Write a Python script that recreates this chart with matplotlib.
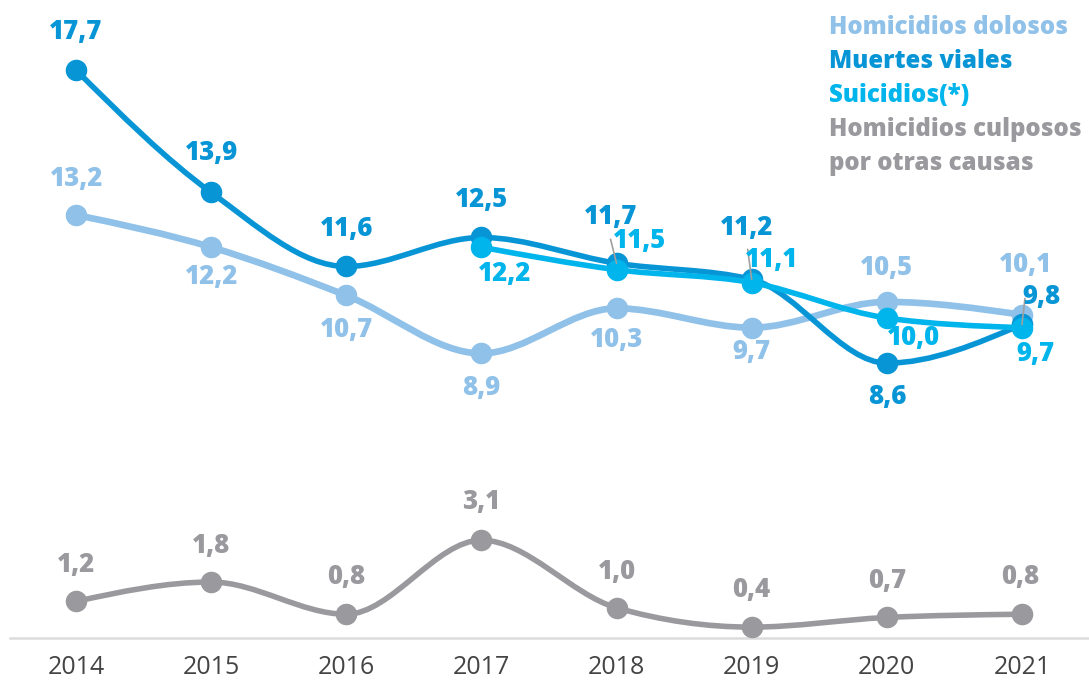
import numpy as np
import matplotlib
matplotlib.use("Agg")
import matplotlib.pyplot as plt
from matplotlib.path import Path
from matplotlib.patches import PathPatch

plt.rcParams["font.family"] = ["Open Sans", "DejaVu Sans"]

# ==========================
# Data
# ==========================

years = [2014, 2015, 2016, 2017, 2018, 2019, 2020, 2021]

dolosos = [13.2, 12.2, 10.7, 8.9, 10.3, 9.7, 10.5, 10.1]
viales = [17.7, 13.9, 11.6, 12.5, 11.7, 11.2, 8.6, 9.8]
suicidios_years = [2017, 2018, 2019, 2020, 2021]
suicidios = [12.2, 11.5, 11.1, 10.0, 9.7]
culposos = [1.2, 1.8, 0.8, 3.1, 1.0, 0.4, 0.7, 0.8]

legend_labels = ["Homicidios dolosos", "Muertes viales", "Suicidios(*)",
                 "Homicidios culposos", "por otras causas"]

# Colores
c_dol = "#90c1e9"
c_via = "#0895d6"
c_sui = "#00b4ec"
c_cul = "#9a9a9e"

# label offsets in pixels (dx, dy)
off_dol = [(1, 36), (0, -30), (0, -35), (0, -35), (0, -32), (0, -24), (0, 34), (4, 50)]
off_via = [(0, 38), (0, 39), (0, 37), (0, 37), (-6, 46), (-5, 51), (0, -34), (20, 27)]
off_sui = [(23, -27), (23, 29), (20, 23), (27, -20), (13, -26)]
off_cul = [(0, 36), (0, 36), (0, 37), (0, 38), (0, 36), (0, 37), (0, 36), (-2, 37)]


def monotone_path(xs, ys):
    # monotone cubic (like d3 curveMonotoneX) as bezier path
    xs = np.asarray(xs, float)
    ys = np.asarray(ys, float)
    n = len(xs)
    h = np.diff(xs)
    s = np.diff(ys) / h
    t = np.zeros(n)
    for i in range(1, n - 1):
        p = (s[i - 1] * h[i] + s[i] * h[i - 1]) / (h[i - 1] + h[i])
        t[i] = (np.sign(s[i - 1]) + np.sign(s[i])) * min(abs(s[i - 1]), abs(s[i]), 0.5 * abs(p))
    t[0] = (3 * s[0] - t[1]) / 2
    t[-1] = (3 * s[-1] - t[-2]) / 2
    verts = [(xs[0], ys[0])]
    codes = [Path.MOVETO]
    for i in range(n - 1):
        dx = h[i] / 3
        verts += [(xs[i] + dx, ys[i] + dx * t[i]),
                  (xs[i + 1] - dx, ys[i + 1] - dx * t[i + 1]),
                  (xs[i + 1], ys[i + 1])]
        codes += [Path.CURVE4] * 3
    return Path(verts, codes)


W, H = 1089, 686
fig = plt.figure(figsize=(W / 100, H / 100), dpi=100)
ax = fig.add_axes([0, 46 / H, 1, 640 / H])
ax.set_xlim(2013.4376, 2021.4961)
ax.set_ylim(0, 640 / 32.2)
for sp in ax.spines.values():
    sp.set_visible(False)
ax.set_yticks([])
ax.set_xticks(years)
ax.set_xticklabels([str(y) for y in years], fontsize=18, color="#444444")
ax.tick_params(axis="x", length=0, pad=11)

ax.axhline(0.06, xmin=10 / W, xmax=1, color="#dcdcdc", linewidth=1.8, zorder=1)


def draw(xs, ys, color, lw, offs, z):
    ax.add_patch(PathPatch(monotone_path(xs, ys), fill=False, edgecolor=color,
                           linewidth=lw, capstyle="round", joinstyle="round",
                           zorder=z, clip_on=False))
    ax.plot(xs, ys, "o", color=color, markersize=14.5, zorder=z + 0.1, clip_on=False)
    for x, y, (dx, dy) in zip(xs, ys, offs):
        ax.annotate(f"{y:.1f}".replace(".", ","), (x, y), xytext=(dx, dy),
                    textcoords="offset pixels", ha="center", va="center",
                    fontsize=18.5, fontweight="heavy", color=color, zorder=10)


draw(years, culposos, c_cul, 4.0, off_cul, 2)
draw(years, dolosos, c_dol, 4.8, off_dol, 3)
draw(years, viales, c_via, 4.0, off_via, 4)
draw(suicidios_years, suicidios, c_sui, 4.0, off_sui, 5)

# leader lines
for x, y, dx0, dy0 in [(2018, 11.7, -6, 24),
                       (2019, 11.2, -4, 30),
                       (2021, 9.8, 3, 26)]:
    ax.annotate("", (x, y), xytext=(dx0, dy0), textcoords="offset pixels",
                xycoords="data", zorder=9,
                arrowprops=dict(arrowstyle="-", color="#a0a0a0", lw=1.2,
                                shrinkA=0, shrinkB=0))

# legend
leg_colors = [c_dol, c_via, c_sui, c_cul, c_cul]
leg_y = [27, 61, 95, 130, 163]
for txt, col, yy in zip(legend_labels, leg_colors, leg_y):
    fig.text(829 / W, 1 - yy / H, txt, ha="left", va="center", fontsize=17.3,
             fontweight="heavy", color=col)

fig.savefig("out.png", dpi=100, facecolor="white")
